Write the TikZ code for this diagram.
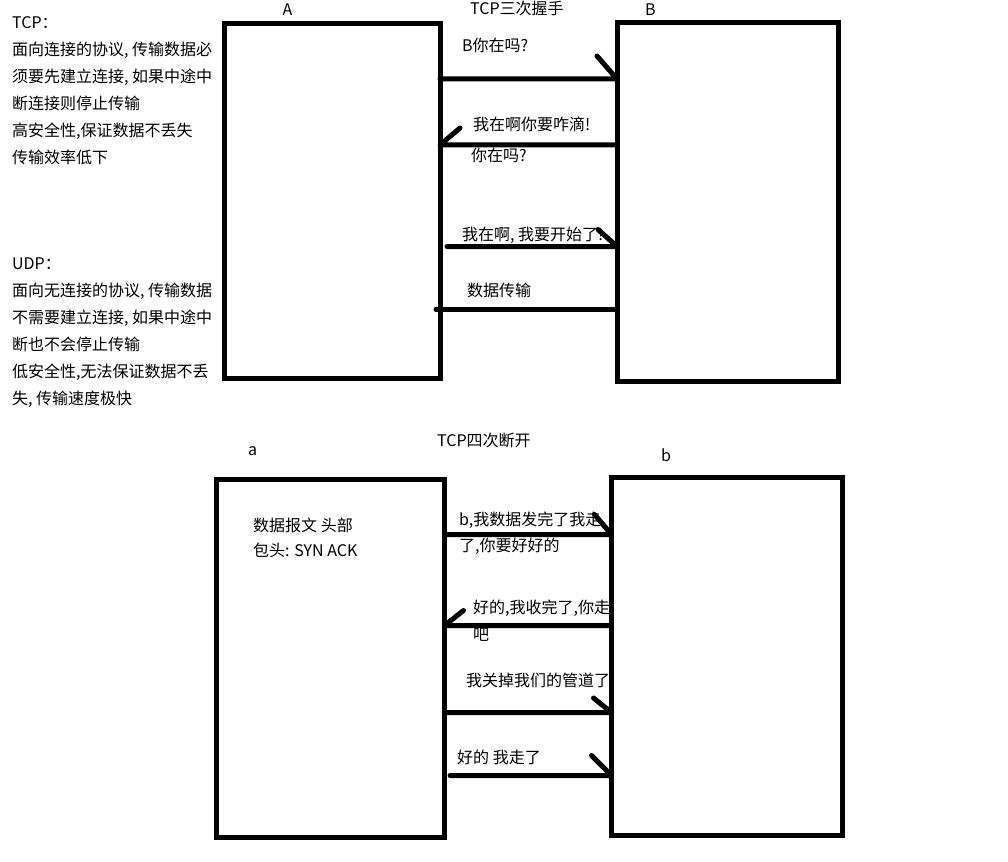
\documentclass[tikz,border=0pt]{standalone}
\usepackage{fontspec}
\newfontfamily\cjk{Noto Sans CJK SC}
\tikzstyle{box} = [rectangle, draw, line width=5pt, outer sep=0pt, inner sep=0pt]
\tikzstyle{line} = [draw, line width=5pt, line cap=round, line join=round]
\tikzstyle{txt} = [inner sep=0pt, anchor=base west, align=left, font=\cjk\fontsize{16}{27}\selectfont]

\begin{document}
\begin{tikzpicture}[x=1pt, y=-1pt]
			\useasboundingbox (0,0) rectangle (1008,861);

			% TCP三次握手
			\node [box, minimum width=216, minimum height=354] (A) at (332, 201) {};
			\node [box, minimum width=221, minimum height=359] (B) at (727.5, 202) {};
			\node [txt] (Alabel) at (282.5, 16) {A};
			\node [txt] (Blabel) at (645, 16) {B};
			\node [txt] (title1) at (470, 15) {TCP三次握手};

			% base of a block = last line
			\node [txt] (tcp) at (12, 164) {TCP：\\面向连接的协议, 传输数据必\\须要先建立连接, 如果中途中\\断连接则停止传输\\高安全性,保证数据不丢失\\传输效率低下};
			\node [txt] (udp) at (12, 404) {UDP：\\面向无连接的协议, 传输数据\\不需要建立连接, 如果中途中\\断也不会停止传输\\低安全性,无法保证数据不丢\\失, 传输速度极快};

			\node [txt] (m1) at (462, 52) {B你在吗?};
			\node [txt] (m2) at (473, 131) {我在啊你要咋滴!};
			\node [txt] (m2b) at (471, 162) {你在吗?};
			\node [txt] (m3) at (462, 240) {我在啊, 我要开始了!};
			\node [txt] (m4) at (467, 296) {数据传输};

			\coordinate (s3) at (447, 246.5);
			\coordinate (s4) at (436, 309.5);

			\path [line] (A.east |- 0,79) -- (B.west |- 0,79) -- ++(-20,-23);
			\path [line] (B.west |- 0,145) -- (A.east |- 0,145) -- ++(20,-17);
			\path [line] (s3) -- (B.west |- s3) -- ++(-19,-17);
			\path [line] (s4) -- (B.west |- s4);

			% TCP四次断开
			\node [box, minimum width=228, minimum height=358.5] (a) at (330.5, 658.25) {};
			\node [box, minimum width=231, minimum height=358] (b) at (727, 656.5) {};
			\node [txt] (alabel) at (248, 455) {a};
			\node [txt] (blabel) at (661, 461) {b};
			\node [txt] (title2) at (437, 446) {TCP四次断开};

			\node [txt, font=\cjk\fontsize{16}{25}\selectfont] (head) at (253, 556) {数据报文 头部\\包头: SYN ACK};

			\node [txt, font=\cjk\fontsize{16}{26}\selectfont] (n1) at (459, 551) {b,我数据发完了我走\\了,你要好好的};
			\node [txt] (n2) at (473, 640) {好的,我收完了,你走\\吧};
			\node [txt] (n3) at (466, 686) {我关掉我们的管道了};
			\node [txt] (n4) at (457, 763) {好的 我走了};

			\coordinate (s8) at (450, 775.5);

			\path [line] (a.east |- 0,534.5) -- (b.west |- 0,534.5) -- ++(-17,-20);
			\path [line] (b.west |- 0,625.5) -- (a.east |- 0,625.5) -- ++(19,-15);
			\path [line] (a.east |- 0,712.5) -- (b.west |- 0,712.5) -- ++(-18,-14.5);
			\path [line] (s8) -- (b.west |- s8) -- ++(-20,-20);
		\end{tikzpicture}
\end{document}
